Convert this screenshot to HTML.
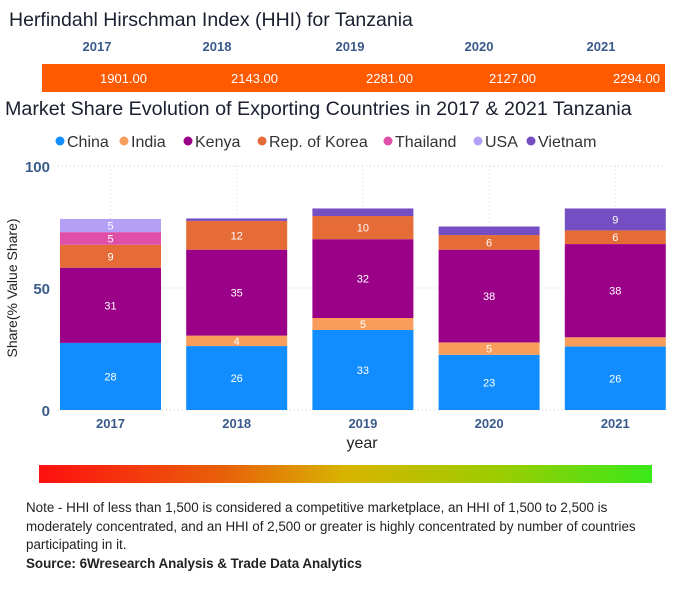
<!DOCTYPE html>
<html><head><meta charset="utf-8"><style>
body{margin:0;width:693px;height:600px;background:#fff;font-family:"Liberation Sans",sans-serif;overflow:hidden;position:relative}
.abs{position:absolute}
</style></head><body>
<div class="abs" style="left:9px;top:9px;font-size:19.5px;color:#1a2030">Herfindahl Hirschman Index (HHI) for Tanzania</div>
<svg class="abs" style="left:0;top:0" width="693" height="600" id="svg">
<rect x="42" y="64" width="623" height="28" fill="#ff5a00"/>
<g id="hhi"></g>
<text x="5" y="115" font-size="19.7" fill="#1a2030">Market Share Evolution of Exporting Countries in 2017 &amp; 2021 Tanzania</text>
<g id="legend"></g>
<g id="grid"></g>
<g id="bars"></g>
<text transform="translate(17,288) rotate(-90)" text-anchor="middle" font-size="14" fill="#222">Share(% Value Share)</text>
<text x="362" y="448" text-anchor="middle" font-size="16" fill="#222">year</text>
<defs><linearGradient id="gr" x1="0" x2="1"><stop offset="0" stop-color="#ff1010"/><stop offset="0.3" stop-color="#e8600a"/><stop offset="0.5" stop-color="#d8b400"/><stop offset="0.75" stop-color="#9ccc00"/><stop offset="1" stop-color="#3ae81a"/></linearGradient></defs>
<rect x="39" y="465" width="613" height="18" fill="url(#gr)"/>
</svg>
<div class="abs" style="left:26px;top:499px;width:640px;font-size:13.4px;line-height:18.5px;color:#222">Note - HHI of less than 1,500 is considered a competitive marketplace, an HHI of 1,500 to 2,500 is moderately concentrated, and an HHI of 2,500 or greater is highly concentrated by number of countries participating in it.<br><b>Source: 6Wresearch Analysis &amp; Trade Data Analytics</b></div>
<script>
const years=['2017','2018','2019','2020','2021'];
const hhiValues=[1901,2143,2281,2127,2294];
const series=['China','India','Kenya','Rep. of Korea','Thailand','USA','Vietnam'];
const colors=['#118dff','#f99d5c','#9b0088','#e56c37','#df4fa8','#b5a0f8','#744ec2'];
const china=[27.5,26.2,32.8,22.6,26];
const india=[0,4.3,4.9,5.1,3.8];
const kenya=[30.8,35.2,32.3,38,38.2];
const korea=[9.4,11.8,9.5,6,5.6];
const thailand=[5.2,0,0,0,0];
const usa=[5.4,0,0,0,0];
const vietnam=[0,1,3.1,3.5,9];
const yTicks=[0,50,100];
const vals=[china,india,kenya,korea,thailand,usa,vietnam];
const NS='http://www.w3.org/2000/svg';
function mk(p,t,a,txt){const e=document.createElementNS(NS,t);for(const k in a)e.setAttribute(k,a[k]);if(txt!=null)e.textContent=txt;document.getElementById(p).appendChild(e);return e;}
const y0=410,y1=166,x0=60,step=126.2,bw=101;
const Y=v=>y0-(v/100)*(y0-y1);
const X=i=>x0+i*step;
const hhiYearX=[97,217,350,479,601];
const hhiValEnd=[147,278,413,536,660];
years.forEach((yr,i)=>{
 let t=mk('hhi','text',{x:hhiYearX[i],y:51,'text-anchor':'middle','font-size':13,'font-weight':'bold',fill:'#3a5a8c'},yr);
 
 
 let v=mk('hhi','text',{x:hhiValEnd[i],y:83,'text-anchor':'end','font-size':13,fill:'#fff'},hhiValues[i].toFixed(2));
 
 
});
const legX=[60,124,188,262,388,478,531];
series.forEach((s,i)=>{
 let c=mk('legend','circle',{cx:legX[i],cy:141,r:4.5,fill:colors[i]});
 
 
 let t=mk('legend','text',{x:legX[i]+7,y:147,'font-size':16,fill:'#333'},s);
 
 
});
yTicks.forEach(t=>{
 let l=mk('grid','line',{x1:58,x2:666,y1:Y(t),y2:Y(t),stroke:'#ccc','stroke-dasharray':'1,3'});
 
 
 let tx=mk('grid','text',{x:50,y:Y(t)+6,'text-anchor':'end','font-size':15,'font-weight':'bold',fill:'#3a5a8c'},t);
 
 
});
years.forEach((yr,i)=>{
 let l=mk('grid','line',{x1:X(i)+bw/2,x2:X(i)+bw/2,y1:Y(100),y2:y0,stroke:'#ddd','stroke-dasharray':'1,3'});
 
 
 let t=mk('grid','text',{x:X(i)+bw/2,y:428,'text-anchor':'middle','font-size':13,'font-weight':'bold',fill:'#3a5a8c'},yr);
 
 
});
years.forEach((yr,i)=>{
 let acc=0;
 vals.forEach((arr,s)=>{
  const v=arr[i]; if(v<=0)return;
  const top=Y(acc+v),bot=Y(acc);
  let r=mk('bars','rect',{x:X(i),y:top,width:bw,height:bot-top,fill:colors[s]});
  
  
  if(v>=4){
   let t=mk('bars','text',{x:X(i)+bw/2,y:(top+bot)/2+4,'text-anchor':'middle','font-size':11,fill:'#fff'},Math.round(v));
   
   
  }
  acc+=v;
 });
});
</script>
</body></html>
